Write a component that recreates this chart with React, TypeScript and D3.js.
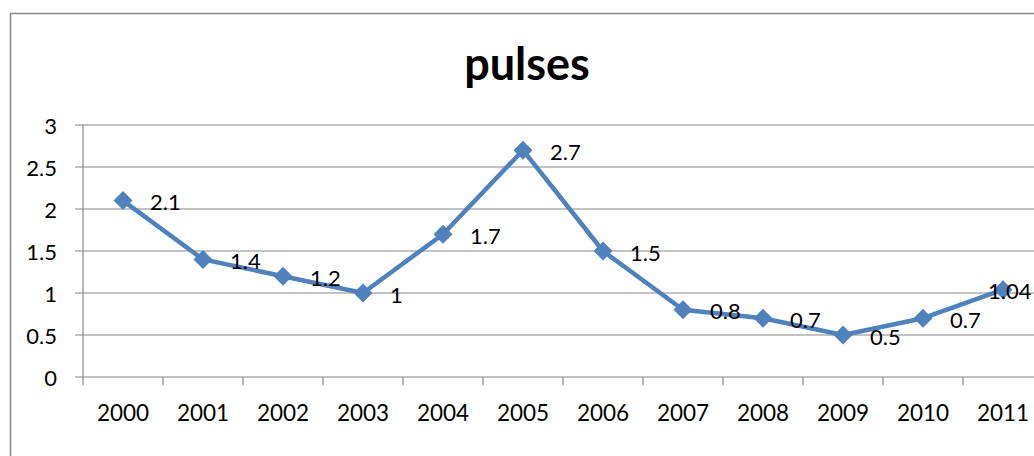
import React from "react";
import * as d3 from "d3";

// chart data
const years = ["2000", "2001", "2002", "2003", "2004", "2005", "2006", "2007", "2008", "2009", "2010", "2011"];
const pulses = [2.1, 1.4, 1.2, 1, 1.7, 2.7, 1.5, 0.8, 0.7, 0.5, 0.7, 1.04];
const yTicks = [0, 0.5, 1, 1.5, 2, 2.5, 3];
const title = "pulses";

const W = 1034, H = 456;
const margin = { top: 125, left: 83, bottom: 79 };
const plotRight = 1043; // plot continues past the cropped edge
const font = "Lato, 'Open Sans', sans-serif";
const blue = "#4F81BD";
const grid = "#868686";

const App = () => {
	const x = d3.scaleBand().domain(years).range([margin.left, plotRight]);
	const y = d3.scaleLinear().domain([0, 3]).range([H - margin.bottom, margin.top]);

	const line = d3.line<number>()
		.x((d, i) => x(years[i])! + x.bandwidth() / 2)
		.y(d => y(d));

	// square turned 45deg = excel style diamond
	const diamond = d3.symbol().type(d3.symbolSquare).size(180)();

	return (
		<svg width={W} height={H} style={{ position: "absolute", left: 0, top: 0, background: "white" }}>
			{/* chart border */}
			<rect x={10.5} y={13.5} width={W + 20} height={H + 20} fill="none" stroke={grid} strokeWidth={1.5} />

			<text x={527} y={80} textAnchor="middle" fontFamily={font} fontWeight={700} fontSize={45}>{title}</text>

			{/* gridlines + y labels */}
			{yTicks.map(t => (
				<g key={t}>
					<line x1={margin.left - 8} x2={plotRight} y1={y(t)} y2={y(t)} stroke={grid} strokeWidth={1.2} />
					<text x={57} y={y(t)} textAnchor="end" dominantBaseline="central" fontFamily={font} fontSize={22}>{t}</text>
				</g>
			))}
			{/* y axis */}
			<line x1={margin.left} x2={margin.left} y1={y(3)} y2={y(0) + 8} stroke={grid} strokeWidth={1.2} />
			{/* x ticks and labels */}
			{years.map(yr => (
				<g key={yr}>
					<line x1={x(yr)! + x.bandwidth()} x2={x(yr)! + x.bandwidth()} y1={y(0)} y2={y(0) + 8} stroke={grid} strokeWidth={1.2} />
					<text x={x(yr)! + x.bandwidth() / 2} y={412} textAnchor="middle" dominantBaseline="central" fontFamily={font} fontSize={22.5}>{yr}</text>
				</g>
			))}

			<path d={line(pulses)!} fill="none" stroke={blue} strokeWidth={4.5} strokeLinejoin="round" />
			{pulses.map((v, i) => {
				const px = x(years[i])! + x.bandwidth() / 2;
				const py = y(v);
				// push label left if it would run off the chart
				const lx = Math.min(px + 27, W - 46);
				return (
					<g key={i}>
						<path d={diamond!} transform={`translate(${px},${py}) rotate(45)`} fill={blue} />
						<text x={lx} y={py + 1} dominantBaseline="central" fontFamily={font} fontSize={22}>{v}</text>
					</g>
				);
			})}
		</svg>
	);
};

export default App;
